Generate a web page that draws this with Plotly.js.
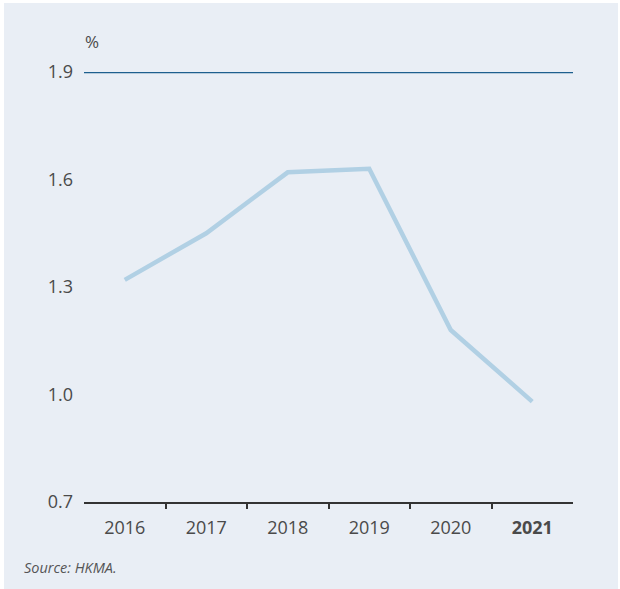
<!DOCTYPE html>
<html>
<head>
<meta charset="utf-8">
<script src="https://cdn.plot.ly/plotly-3.0.1.min.js"></script>
<style>html,body{margin:0;padding:0;background:#fff;}#chart{width:620px;height:589px;}</style>
</head>
<body>
<div id="chart"></div>
<script>
const years = ["2016", "2017", "2018", "2019", "2020", "2021"];
const yearLabels = ["2016", "2017", "2018", "2019", "2020", "<b>2021</b>"];
const values = [1.32, 1.45, 1.62, 1.63, 1.18, 0.98];
const referenceLevel = 1.9;
const yTicks = [0.7, 1.0, 1.3, 1.6, 1.9];
const yTickLabels = ["0.7", "1.0", "1.3", "1.6", "1.9"];
const boundaryTicks = [0.5, 1.5, 2.5, 3.5, 4.5];

const bg = "#e9eef5";
const font = "'Open Sans', 'Noto Sans', sans-serif";

const traces = [{
  x: years,
  y: values,
  type: "scatter",
  mode: "lines",
  line: {color: "#b1d0e4", width: 4.5},
  hoverinfo: "skip",
  showlegend: false
}];

const layout = {
  width: 620,
  height: 589,
  margin: {l: 84, r: 47, t: 72, b: 87},
  paper_bgcolor: "#ffffff",
  plot_bgcolor: "rgba(0,0,0,0)",
  font: {family: font, size: 18, color: "#444"},
  showlegend: false,
  xaxis: {
    type: "category",
    categoryorder: "array",
    categoryarray: years,
    range: [-0.5, 5.5],
    tickvals: years,
    ticktext: yearLabels,
    ticks: "",
    ticklabelstandoff: 8,
    showgrid: false,
    zeroline: false,
    showline: true,
    linecolor: "#333",
    linewidth: 2,
    tickfont: {family: font, size: 18, color: "#4a4a4a"},
    minor: {tickvals: boundaryTicks, ticks: "outside", ticklen: 5, tickwidth: 2, tickcolor: "#333", showgrid: false},
    fixedrange: true
  },
  yaxis: {
    range: [0.7, 1.9],
    tickvals: yTicks,
    ticktext: yTickLabels,
    ticks: "",
    ticklabelstandoff: 10,
    showgrid: false,
    zeroline: false,
    showline: false,
    tickfont: {family: font, size: 18, color: "#4a4a4a"},
    fixedrange: true
  },
  shapes: [
    {type: "rect", xref: "paper", yref: "paper", x0: -0.1636, x1: 1.092, y0: -0.21, y1: 1.1605,
     fillcolor: bg, line: {width: 0}, layer: "below"},
    {type: "line", xref: "paper", yref: "y", x0: 0, x1: 1, y0: referenceLevel, y1: referenceLevel,
     line: {color: "#1d5f8e", width: 2.5}}
  ],
  annotations: [
    {text: "%", xref: "paper", yref: "paper", x: 0.016, y: 1.072, xanchor: "center", yanchor: "middle",
     showarrow: false, font: {family: font, size: 17, color: "#4a4a4a"}},
    {text: "<i>Source: HKMA.</i>", xref: "paper", yref: "paper", x: -0.127, y: -0.152, xanchor: "left", yanchor: "middle",
     showarrow: false, font: {family: font, size: 14.5, color: "#555"}}
  ]
};

Plotly.newPlot("chart", traces, layout, {displayModeBar: false, staticPlot: true});
</script>
</body>
</html>
